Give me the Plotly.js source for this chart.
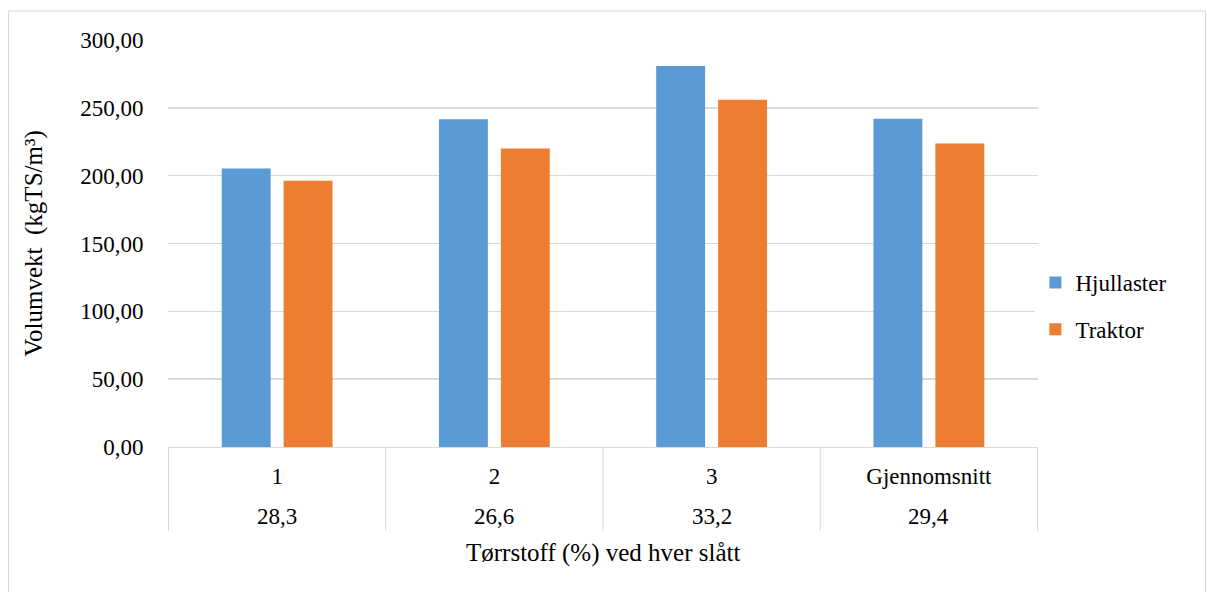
<!DOCTYPE html>
<html>
<head>
<meta charset="utf-8">
<script src="https://cdn.plot.ly/plotly-3.0.1.min.js"></script>
<style>
html,body{margin:0;padding:0;background:#fff;}
#chart{width:1207px;height:592px;}
</style>
</head>
<body>
<div id="chart"></div>
<script>
const slatt = ["1", "2", "3", "Gjennomsnitt"];
const torrstoff = ["28,3", "26,6", "33,2", "29,4"];
const hjullaster = [205.2, 241.5, 280.8, 241.9];
const traktor = [196.3, 220.0, 255.9, 223.8];
const seriesNames = ["Hjullaster", "Traktor"];
const yTicks = [0, 50, 100, 150, 200, 250, 300];

const font = "Liberation Serif";
const PLOT_T = 40, PLOT_H = 407, AXIS_Y = PLOT_T + PLOT_H;
const py = px => (AXIS_Y - px) / PLOT_H;   // pixel row -> paper y

const traces = [
  {type: "bar", name: seriesNames[0], x: slatt, y: hjullaster,
   marker: {color: "#5b9bd5"}, legendgroup: "a", hoverinfo: "y"},
  {type: "bar", name: seriesNames[1], x: slatt, y: traktor,
   marker: {color: "#ed7d31"}, legendgroup: "b", hoverinfo: "y"}
];

const shapes = [
  {type: "rect", xref: "paper", yref: "paper",
   x0: (8.5 - 168) / 870, x1: (1205.5 - 168) / 870,
   y0: py(700), y1: py(11),
   line: {color: "#d9d9d9", width: 1}, fillcolor: "rgba(0,0,0,0)", layer: "below"}
];
for (let i = 0; i <= slatt.length; i++) {
  shapes.push({type: "line", xref: "x", yref: "paper", x0: i - 0.5, x1: i - 0.5,
    y0: 0, y1: py(531), line: {color: "#d9d9d9", width: 1}});
}

const annotations = torrstoff.map((t, i) => ({
  text: t, x: i, xref: "x", y: py(516), yref: "paper",
  showarrow: false, yanchor: "middle", xanchor: "center",
  font: {family: font, size: 23, color: "#000"}
}));
annotations.push({
  text: "Tørrstoff (%) ved hver slått", xref: "paper", x: 0.5, yref: "paper", y: py(553),
  showarrow: false, yanchor: "middle", xanchor: "center",
  font: {family: font, size: 25, color: "#000"}
});

const layout = {
  width: 1207, height: 592,
  margin: {l: 168, r: 169, t: PLOT_T, b: 592 - AXIS_Y},
  font: {family: font, size: 23, color: "#000"},
  separators: ",.",
  barmode: "group",
  bargap: 0.43,
  bargroupgap: 0.21,
  legend: {x: 0.997, xanchor: "left", y: py(306), yanchor: "middle", tracegroupgap: 14},
  xaxis: {
    type: "category",
    showline: true, linecolor: "#d9d9d9", linewidth: 1,
    ticks: "outside", ticklen: 8, tickcolor: "rgba(0,0,0,0)", showgrid: false
  },
  yaxis: {
    range: [0, 300], tickvals: yTicks, tickformat: ".2f",
    gridcolor: "#d9d9d9", gridwidth: 1.5,
    zeroline: false,
    ticks: "outside", ticklen: 19, tickcolor: "rgba(0,0,0,0)",
    title: {text: "Volumvekt  (kgTS/m³)", font: {family: font, size: 25, color: "#000"}, standoff: 30}
  },
  shapes: shapes,
  annotations: annotations
};

Plotly.newPlot("chart", traces, layout, {displayModeBar: false, staticPlot: true});
</script>
</body>
</html>
